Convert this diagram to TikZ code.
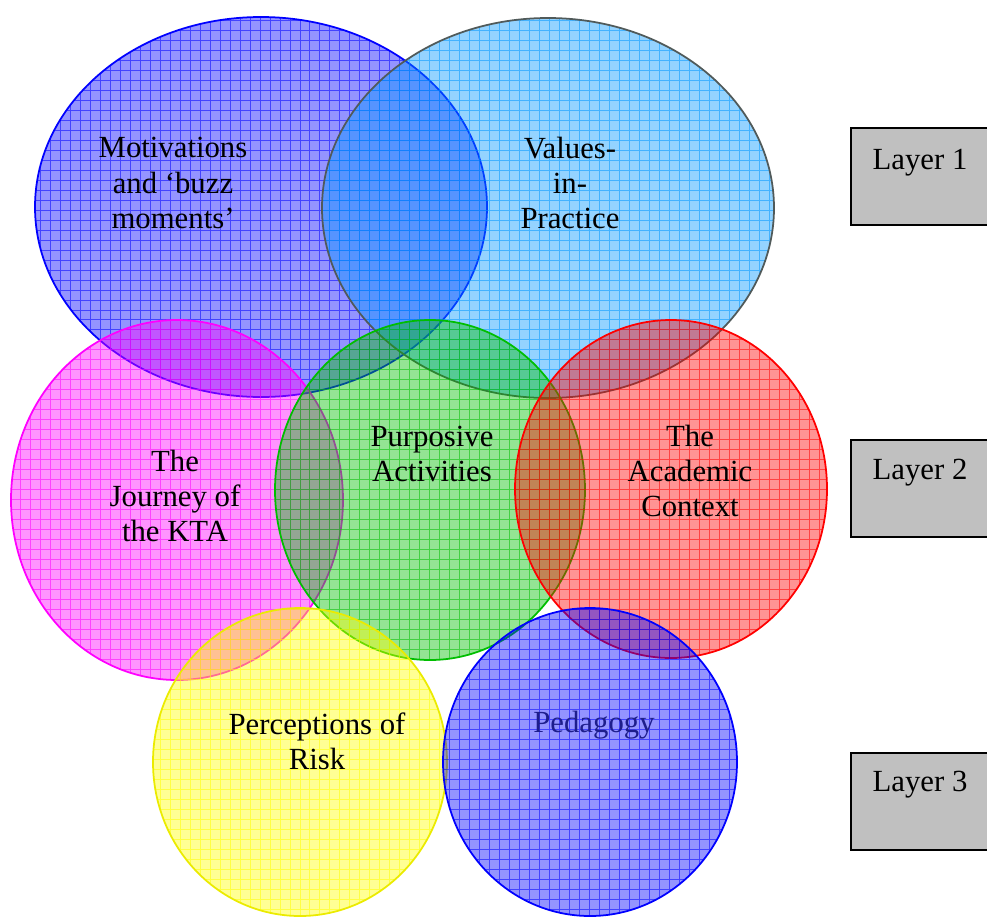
\documentclass[tikz,border=0pt]{standalone}
\usepackage{fontspec}
\setmainfont{Liberation Serif}
\usepackage{tikz}

\definecolor{motblue}{RGB}{0,0,255}
\definecolor{valblue}{RGB}{0,150,255}
\definecolor{valedge}{RGB}{80,90,90}
\definecolor{jourpink}{RGB}{255,0,255}
\definecolor{purpgreen}{RGB}{0,190,0}
\definecolor{acadred}{RGB}{255,0,0}
\definecolor{riskyellow}{RGB}{255,255,0}
\definecolor{riskedge}{RGB}{235,235,0}
\definecolor{pedtext}{RGB}{30,30,140}
\definecolor{layergray}{RGB}{192,192,192}

\begin{document}
\begin{tikzpicture}[x=0.02cm,y=-0.02cm,
  lab/.style={font=\fontsize{17.5}{20}\selectfont, align=center, inner sep=0pt},
  layerbox/.style={draw=black, line width=1pt, fill=layergray, anchor=north west,
    minimum width=3cm, minimum height=1.94cm, outer sep=0pt}]
  \useasboundingbox (0,0) rectangle (987,920);
  % bubbles, drawn layer by layer
  \foreach \cx/\cy/\rx/\ry/\fc/\ec in {261/207/226/190/motblue/motblue,
      548/208/226/190/valblue/valedge,
      177/500/166/180/jourpink/jourpink,
      430/490/155/170/purpgreen/purpgreen,
      671/489/156/169/acadred/acadred,
      300/762/147/154/riskyellow/riskedge,
      590/762/147/154/motblue/motblue}{
    \fill[\fc, fill opacity=0.42] (\cx,\cy) ellipse [x radius=\rx, y radius=\ry];
    \begin{scope}
      \clip (\cx,\cy) ellipse [x radius=\rx, y radius=\ry];
      \draw[\fc, opacity=0.55, line width=0.5pt, step=0.2cm]
        (\cx-\rx,\cy+\ry) grid (\cx+\rx,\cy-\ry);
    \end{scope}
    \draw[\ec, line width=1pt] (\cx,\cy) ellipse [x radius=\rx, y radius=\ry];
  }
  \node[lab] (motiv) at (173,183) {Motivations\\and ‘buzz\\moments’};
  \node[lab] (values) at (570,183) {Values-\\in-\\Practice};
  \node[lab] (journey) at (175,496) {The\\Journey of\\the KTA};
  \node[lab] (purpose) at (432,454) {Purposive\\Activities};
  \node[lab] (academic) at (690,471) {The\\Academic\\Context};
  \node[lab] (risk) at (317,741) {Perceptions of\\Risk};
  \node[lab, text=pedtext] (pedagogy) at (594,725) {Pedagogy};
  % layer boxes
  \node[layerbox] (layer1) at (851,128) {};
  \node[layerbox] (layer2) at (851,440) {};
  \node[layerbox] (layer3) at (851,753) {};
  \node[lab] (layer1txt) at (920,163) {Layer 1};
  \node[lab] (layer2txt) at (920,473) {Layer 2};
  \node[lab] (layer3txt) at (920,785) {Layer 3};
\end{tikzpicture}
\end{document}
